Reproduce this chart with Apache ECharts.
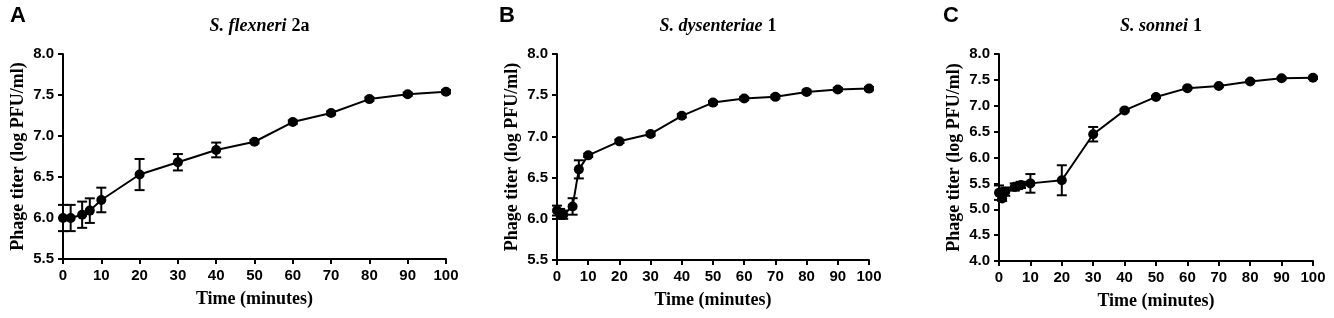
<!DOCTYPE html>
<html>
<head>
<meta charset="utf-8">
<script src="https://cdn.jsdelivr.net/npm/echarts@6/dist/echarts.min.js"></script>
<style>
  html, body { margin: 0; padding: 0; background: #fff; }
  #main { width: 1334px; height: 318px; }
</style>
</head>
<body>
<div id="main"></div>
<script>
// panel A - S. flexneri 2a
var timeA = [0, 2, 5, 7, 10, 20, 30, 40, 50, 60, 70, 80, 90, 100];
var titerA = [6.00, 6.00, 6.04, 6.09, 6.22, 6.53, 6.68, 6.83, 6.93, 7.17, 7.28, 7.45, 7.51, 7.54];
var errA = [0.16, 0.16, 0.16, 0.15, 0.15, 0.19, 0.10, 0.09, 0.02, 0.02, 0.02, 0.02, 0.02, 0.02];

// panel B - S. dysenteriae 1
var timeB = [0, 1, 2, 5, 7, 10, 20, 30, 40, 50, 60, 70, 80, 90, 100];
var titerB = [6.10, 6.06, 6.05, 6.15, 6.60, 6.77, 6.94, 7.03, 7.25, 7.41, 7.46, 7.48, 7.54, 7.57, 7.58];
var errB = [0.06, 0.06, 0.05, 0.10, 0.11, 0.02, 0.02, 0.02, 0.02, 0.02, 0.02, 0.02, 0.02, 0.02, 0.02];

// panel C - S. sonnei 1
var timeC = [0, 1, 2, 5, 6, 7, 10, 20, 30, 40, 50, 60, 70, 80, 90, 100];
var titerC = [5.32, 5.21, 5.34, 5.43, 5.45, 5.47, 5.50, 5.56, 6.45, 6.91, 7.17, 7.34, 7.38, 7.47, 7.53, 7.54];
var errC = [0.14, 0.05, 0.08, 0.07, 0.06, 0.06, 0.18, 0.29, 0.14, 0.02, 0.02, 0.02, 0.02, 0.02, 0.02, 0.02];

var yRangeAB = [5.5, 8.0];
var yRangeC = [4.0, 8.0];

var panels = [
  { letter: 'A', name: 'S. flexneri', suffix: '2a', t: timeA, v: titerA, e: errA, y: yRangeAB,
    grid: { left: 63, top: 54, width: 383, height: 205 } },
  { letter: 'B', name: 'S. dysenteriae', suffix: '1', t: timeB, v: titerB, e: errB, y: yRangeAB,
    grid: { left: 557, top: 54, width: 312, height: 206 } },
  { letter: 'C', name: 'S. sonnei', suffix: '1', t: timeC, v: titerC, e: errC, y: yRangeC,
    grid: { left: 999, top: 54, width: 314, height: 207 } }
];

var sansBold = { fontFamily: 'Liberation Sans', fontWeight: 'bold', color: '#000' };
var serifBold = { fontFamily: 'Liberation Serif', fontWeight: 'bold', color: '#000' };

function errorBars(params, api) {
  var x = api.value(0);
  var lo = api.coord([x, api.value(1)]);
  var hi = api.coord([x, api.value(2)]);
  var w = 5;
  var st = { stroke: '#000', lineWidth: 2 };
  return {
    type: 'group',
    children: [
      { type: 'line', shape: { x1: lo[0], y1: lo[1], x2: hi[0], y2: hi[1] }, style: st },
      { type: 'line', shape: { x1: lo[0] - w, y1: lo[1], x2: lo[0] + w, y2: lo[1] }, style: st },
      { type: 'line', shape: { x1: hi[0] - w, y1: hi[1], x2: hi[0] + w, y2: hi[1] }, style: st }
    ]
  };
}

var option = {
  animation: false,
  backgroundColor: '#fff',
  title: [],
  grid: [],
  xAxis: [],
  yAxis: [],
  series: []
};

panels.forEach(function(p, i) {
  var g = p.grid;
  option.grid.push(g);
  option.title.push({
    text: p.letter,
    left: [5, 494, 938][i],
    top: 0,
    textStyle: { fontFamily: 'Liberation Sans', fontWeight: 'bold', fontSize: 22, color: '#000' }
  });
  option.title.push({
    text: '{i|' + p.name + '} {n|' + p.suffix + '}',
    left: g.left + g.width / 2,
    textAlign: 'center',
    top: 12,
    textStyle: {
      rich: {
        i: { fontFamily: 'Liberation Serif', fontWeight: 'bold', fontStyle: 'italic', fontSize: 18, color: '#000' },
        n: { fontFamily: 'Liberation Serif', fontWeight: 'bold', fontSize: 18, color: '#000' }
      }
    }
  });
  option.xAxis.push({
    type: 'value',
    gridIndex: i,
    min: 0,
    max: 100,
    interval: 10,
    name: 'Time (minutes)',
    nameLocation: 'middle',
    nameGap: 31,
    nameTextStyle: Object.assign({ fontSize: 18 }, serifBold),
    axisLine: { lineStyle: { color: '#000', width: 2 } },
    axisTick: { length: 5, lineStyle: { color: '#000', width: 2 } },
    axisLabel: Object.assign({ fontSize: 15, margin: 9 }, sansBold),
    splitLine: { show: false }
  });
  option.yAxis.push({
    type: 'value',
    gridIndex: i,
    min: p.y[0],
    max: p.y[1],
    interval: 0.5,
    name: 'Phage titer (log PFU/ml)',
    nameLocation: 'middle',
    nameGap: 36,
    nameTextStyle: Object.assign({ fontSize: 18 }, serifBold),
    axisLine: { show: true, lineStyle: { color: '#000', width: 2 } },
    axisTick: { show: true, length: 5, lineStyle: { color: '#000', width: 2 } },
    axisLabel: Object.assign({ fontSize: 15, margin: 9, formatter: function(v) { return v.toFixed(1); } }, sansBold),
    splitLine: { show: false }
  });
  option.series.push({
    type: 'custom',
    xAxisIndex: i,
    yAxisIndex: i,
    renderItem: errorBars,
    data: p.t.map(function(t, k) { return [t, p.v[k] - p.e[k], p.v[k] + p.e[k]]; }),
    z: 3
  });
  option.series.push({
    type: 'line',
    xAxisIndex: i,
    yAxisIndex: i,
    data: p.t.map(function(t, k) { return [t, p.v[k]]; }),
    symbol: 'circle',
    symbolSize: 10,
    lineStyle: { color: '#000', width: 2 },
    itemStyle: { color: '#000' },
    z: 4
  });
});

var chart = echarts.init(document.getElementById('main'));
chart.setOption(option);
</script>
</body>
</html>
